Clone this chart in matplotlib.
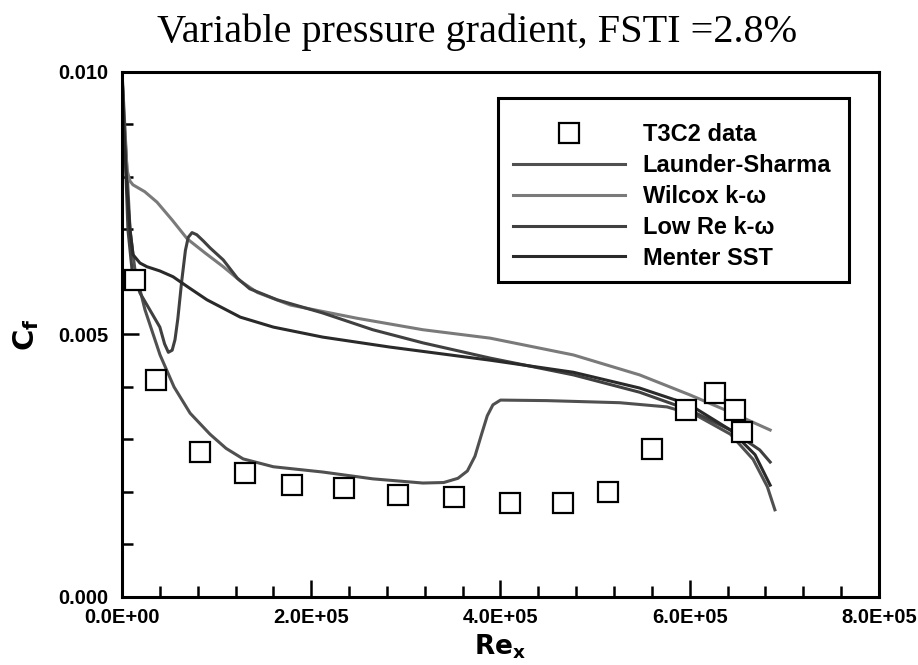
import matplotlib
matplotlib.use('Agg')
import matplotlib.pyplot as plt
from matplotlib.patches import Rectangle
from matplotlib.ticker import MultipleLocator, FuncFormatter

# T3C2 experimental data
exp_x = [1.37e4, 3.6e4, 8.24e4, 1.30e5, 1.80e5, 2.35e5, 2.92e5, 3.51e5,
         4.10e5, 4.66e5, 5.14e5, 5.60e5, 5.96e5, 6.27e5, 6.48e5, 6.55e5]
exp_cf = [0.00604, 0.00413, 0.00276, 0.00236, 0.00213, 0.00208, 0.00194, 0.00190,
          0.00179, 0.00179, 0.00200, 0.00282, 0.00356, 0.00389, 0.00356, 0.00314]

# Launder-Sharma
ls_x = [0, 2.1e3, 4.2e3, 8.5e3, 1.37e4, 2.43e4, 4.02e4, 5.5e4, 7.2e4, 9.3e4,
        1.10e5, 1.28e5, 1.60e5, 2.12e5, 2.65e5, 3.18e5, 3.40e5, 3.55e5, 3.65e5,
        3.73e5, 3.80e5, 3.86e5, 3.92e5, 4.0e5, 4.49e5, 5.26e5, 5.76e5, 6.08e5,
        6.43e5, 6.67e5, 6.82e5, 6.9e5]
ls_cf = [0.0100, 0.00928, 0.00852, 0.00699, 0.00623, 0.00547, 0.00461, 0.00400,
         0.00350, 0.00310, 0.00283, 0.00263, 0.00248, 0.00238, 0.00225, 0.00217,
         0.00218, 0.00226, 0.00240, 0.00268, 0.00310, 0.00345, 0.00366, 0.00375,
         0.00374, 0.00370, 0.00362, 0.00345, 0.00310, 0.00262, 0.00210, 0.00166]

# Wilcox k-omega
wk_x = [0, 2.1e3, 5.3e3, 8.5e3, 1.16e4, 2.4e4, 3.7e4, 5.3e4, 6.9e4, 8.8e4,
        1.07e5, 1.25e5, 1.43e5, 1.78e5, 2.48e5, 3.18e5, 3.89e5, 4.77e5, 5.47e5,
        6.0e5, 6.43e5, 6.85e5]
wk_cf = [0.0100, 0.00909, 0.00813, 0.00792, 0.00785, 0.00772, 0.00752, 0.00718,
         0.00682, 0.00655, 0.00629, 0.00602, 0.00580, 0.00556, 0.00531, 0.00509,
         0.00493, 0.00461, 0.00423, 0.00385, 0.00352, 0.00318]

# Low Re k-omega
lr_x = [0, 3.2e3, 6.3e3, 1.06e4, 1.9e4, 3.0e4, 4.0e4, 4.5e4, 4.9e4, 5.3e4,
        5.6e4, 5.9e4, 6.3e4, 6.7e4, 7.0e4, 7.4e4, 7.9e4, 8.6e4, 9.3e4, 1.07e5,
        1.22e5, 1.35e5, 1.64e5, 2.12e5, 2.65e5, 3.18e5, 3.89e5, 4.77e5, 5.47e5,
        6.0e5, 6.43e5, 6.74e5, 6.85e5]
lr_cf = [0.0100, 0.00852, 0.00699, 0.00623, 0.00579, 0.00545, 0.00514, 0.00482,
         0.00466, 0.00470, 0.00490, 0.00530, 0.00600, 0.00660, 0.00685, 0.00694,
         0.00690, 0.00678, 0.00665, 0.00642, 0.00607, 0.00587, 0.00566, 0.00541,
         0.00509, 0.00484, 0.00455, 0.00423, 0.00390, 0.00356, 0.00318, 0.00280,
         0.00257]

# Menter SST
ms_x = [0, 2.1e3, 5.3e3, 8.5e3, 1.16e4, 1.9e4, 2.64e4, 4.0e4, 5.39e4, 7.0e4,
        8.98e4, 1.25e5, 1.6e5, 2.12e5, 2.83e5, 3.89e5, 4.77e5, 5.47e5, 6.0e5,
        6.43e5, 6.69e5, 6.85e5]
ms_cf = [0.0100, 0.00890, 0.00777, 0.00699, 0.00652, 0.00636, 0.00629, 0.00621,
         0.00610, 0.00590, 0.00566, 0.00533, 0.00514, 0.00495, 0.00476, 0.00451,
         0.00428, 0.00398, 0.00366, 0.00318, 0.00271, 0.00213]

labels = ['T3C2 data', 'Launder-Sharma', 'Wilcox k-\u03c9', 'Low Re k-\u03c9', 'Menter SST']

fig = plt.figure(figsize=(9.18, 6.65), dpi=100)
ax = fig.add_axes([0.1329, 0.1023, 0.8246, 0.7895])

h_exp, = ax.plot(exp_x, exp_cf, 's', ms=14, mfc='white', mec='black', mew=1.6,
                 linestyle='none', zorder=3)
h_ls, = ax.plot(ls_x, ls_cf, color='#505050', lw=2.2)
h_wk, = ax.plot(wk_x, wk_cf, color='#7a7a7a', lw=2.2)
h_lr, = ax.plot(lr_x, lr_cf, color='#404040', lw=2.2)
h_ms, = ax.plot(ms_x, ms_cf, color='#2a2a2a', lw=2.2)

ax.set_xlim(0, 8e5)
ax.set_ylim(0, 0.010)
ax.xaxis.set_major_locator(MultipleLocator(2e5))
ax.xaxis.set_minor_locator(MultipleLocator(0.4e5))
ax.yaxis.set_major_locator(MultipleLocator(0.005))
ax.yaxis.set_minor_locator(MultipleLocator(0.001))
ax.xaxis.set_major_formatter(FuncFormatter(lambda v, p: f'{v:.1E}'))
ax.yaxis.set_major_formatter(FuncFormatter(lambda v, p: f'{v:.3f}'))
ax.tick_params(which='both', direction='in', top=False, right=False, width=1.8)
ax.tick_params(which='major', length=12, labelsize=14.5)
ax.tick_params(axis='x', which='major', pad=8)
ax.tick_params(axis='y', which='major', pad=10)
ax.tick_params(which='minor', length=8)
for lab in ax.get_xticklabels() + ax.get_yticklabels():
    lab.set_fontweight('bold')
    lab.set_family('Liberation Sans')
for s in ax.spines.values():
    s.set_linewidth(2.2)

ax.set_xlabel(r'$\mathbf{Re_x}$', fontsize=19, labelpad=4)
ax.set_ylabel(r'$\mathbf{C_f}$', fontsize=21, labelpad=12)

fig.text(0.52, 0.952, 'Variable pressure gradient, FSTI =2.8%',
         family='Liberation Serif', fontsize=29, ha='center', va='center')

leg = ax.legend([h_exp, h_ls, h_wk, h_lr, h_ms], labels, loc='upper left',
                bbox_to_anchor=(0.5165, 0.902), frameon=False, borderpad=0,
                borderaxespad=0, handlelength=4.75, handletextpad=0.75,
                labelspacing=0.33, prop={'family': 'Liberation Sans',
                                         'weight': 'bold', 'size': 17})
ax.add_patch(Rectangle((0.497, 0.600), 0.463, 0.350, transform=ax.transAxes,
                       fill=False, lw=2.2, ec='black', zorder=5))

fig.savefig('out.png', dpi=100)
